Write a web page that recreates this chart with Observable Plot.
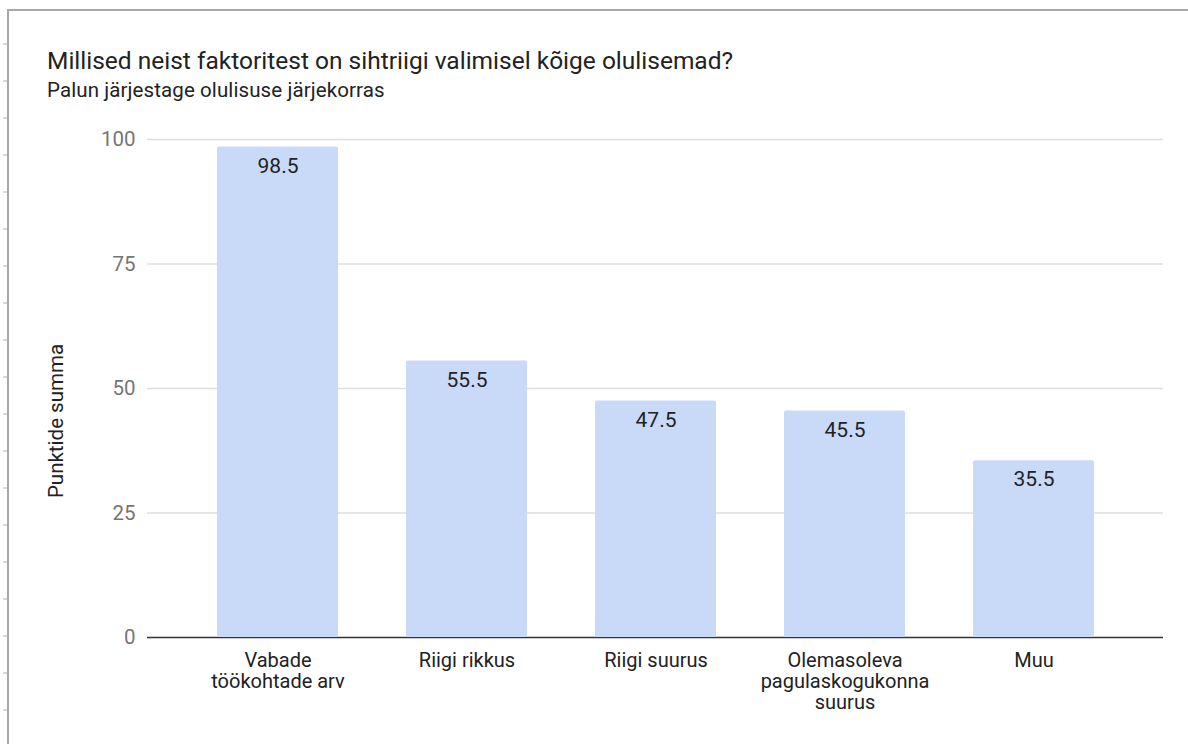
<!DOCTYPE html>
<html><head><meta charset="utf-8">
<script src="https://cdn.jsdelivr.net/npm/d3@7"></script>
<script src="https://cdn.jsdelivr.net/npm/@observablehq/plot@0.6"></script>
<style>
html,body{margin:0;padding:0;background:#fff}
#wrap{position:relative;width:1188px;height:744px;overflow:hidden;font-family:Roboto, sans-serif;background:#fff}
#frame{position:absolute;left:7px;top:9px;width:1200px;height:800px;border-left:2px solid #a8a8a8;border-top:2px solid #a8a8a8;box-sizing:border-box}
#marks{position:absolute;left:3px;top:8px;width:4px;height:740px;background:repeating-linear-gradient(to bottom,transparent 0px,transparent 35px,#d8d8d8 35px,#d8d8d8 37px,transparent 37px,transparent 35.8px)}
#title{position:absolute;left:47px;top:45.5px;font-size:24.5px;color:#222;white-space:nowrap}
#subtitle{position:absolute;left:47px;top:78px;font-size:20.5px;color:#222;white-space:nowrap;letter-spacing:0.1px}
#ylabel{position:absolute;left:56px;top:421px;font-size:20.5px;color:#222;white-space:nowrap;transform:translate(-50%,-50%) rotate(-90deg)}
#chart{position:absolute;left:0;top:0}
</style>
</head><body>
<div id="wrap">
  <div id="marks"></div>
  <div id="frame"></div>
  <div id="chart"></div>
  <div id="title"></div>
  <div id="subtitle"></div>
  <div id="ylabel"></div>
</div>
<script>
const titleText = "Millised neist faktoritest on sihtriigi valimisel kõige olulisemad?";
const subtitleText = "Palun järjestage olulisuse järjekorras";
const yLabelText = "Punktide summa";
const categories = ["Vabade töökohtade arv", "Riigi rikkus", "Riigi suurus", "Olemasoleva pagulaskogukonna suurus", "Muu"];
const categoryLabels = ["Vabade\ntöökohtade arv", "Riigi rikkus", "Riigi suurus", "Olemasoleva\npagulaskogukonna\nsuurus", "Muu"];
const values = [98.5, 55.5, 47.5, 45.5, 35.5];
const yTicks = [0, 25, 50, 75, 100];

document.getElementById("title").textContent = titleText;
document.getElementById("subtitle").textContent = subtitleText;
document.getElementById("ylabel").textContent = yLabelText;

const data = categories.map((c, i) => ({cat: c, label: categoryLabels[i], val: values[i]}));
const labelOf = new Map(data.map(d => [d.cat, d.label]));

const chart = Plot.plot({
  width: 1188,
  height: 744,
  marginLeft: 147,
  marginRight: 25,
  marginTop: 139,
  marginBottom: 107,
  style: {fontFamily: "Roboto, sans-serif", background: "transparent", overflow: "visible"},
  x: {domain: categories, paddingInner: 0.36, paddingOuter: 0.355, label: null},
  y: {domain: [0, 100], label: null},
  marks: [
    Plot.ruleY(yTicks.filter(t => t !== 0), {stroke: "#dedede", strokeWidth: 1.5}),
    Plot.ruleY([0], {stroke: "#333", strokeWidth: 1.5}),
    Plot.barY(data, {x: "cat", y: "val", fill: "#c9daf8", rx: 2}),
    Plot.text(data, {x: "cat", y: "val", text: d => d.val.toFixed(1), dy: 19, fill: "#222", fontSize: 21}),
    Plot.axisY({ticks: yTicks, tickSize: 0, tickPadding: 12, fontSize: 20.5, color: "#757575", label: null}),
    Plot.axisX({tickSize: 0, tickPadding: 14, fontSize: 20, color: "#222", lineHeight: 1.07, tickFormat: c => labelOf.get(c), label: null})
  ]
});
document.getElementById("chart").appendChild(chart);
</script>
</body></html>
